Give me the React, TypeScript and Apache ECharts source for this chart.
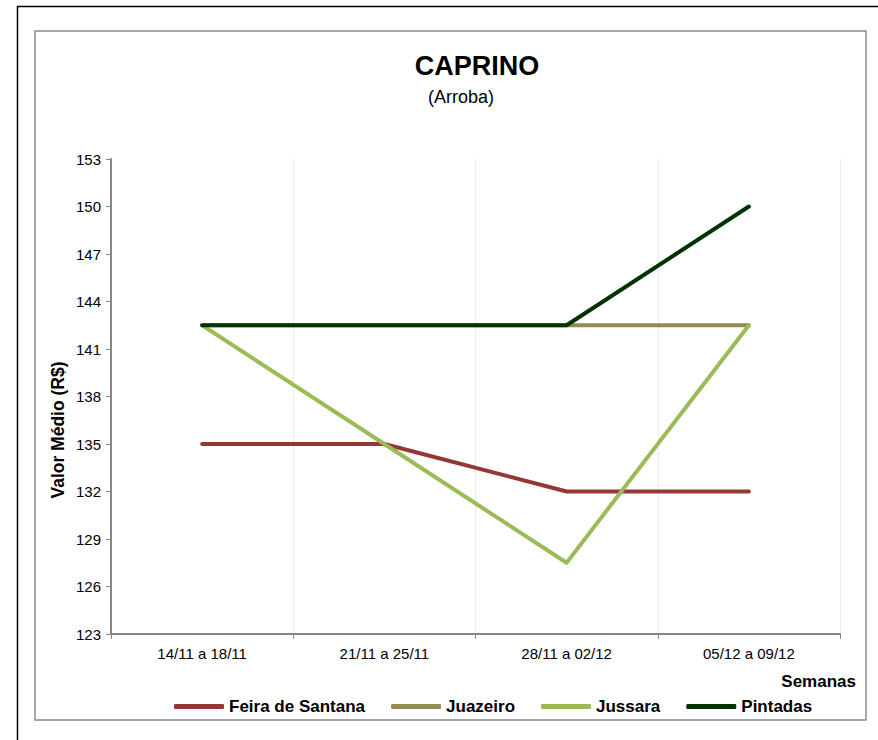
import React, { useEffect, useRef } from "react";
import * as echarts from "echarts";

const categories = ["14/11 a 18/11", "21/11 a 25/11", "28/11 a 02/12", "05/12 a 09/12"];
const feiraDeSantana = [135, 135, 132, 132];
const juazeiro = [142.5, 142.5, 142.5, 142.5];
const jussara = [142.5, 135, 127.5, 142.5];
const pintadas = [142.5, 142.5, 142.5, 150];

const seriesNames = ["Feira de Santana", "Juazeiro", "Jussara", "Pintadas"];
const seriesColors = ["#953735", "#948A54", "#9BBB59", "#003300"];

export default function App() {
  const ref = useRef<HTMLDivElement>(null);
  useEffect(() => {
    document.body.style.margin = "0";
    if (!ref.current) return;
    const chart = echarts.init(ref.current, undefined, { renderer: "svg" });
    const data = [feiraDeSantana, juazeiro, jussara, pintadas];
    const font = "'Liberation Sans', Arial, sans-serif";
    chart.setOption({
      animation: false,
      backgroundColor: "#ffffff",
      textStyle: { fontFamily: font },
      grid: { left: 111, top: 159, right: 38, bottom: 106, containLabel: false },
      xAxis: {
        type: "category",
        data: categories,
        boundaryGap: true,
        axisLine: { lineStyle: { color: "#868686", width: 2 } },
        axisTick: { show: true, length: 5, lineStyle: { color: "#868686", width: 1 } },
        axisLabel: { color: "#000", fontSize: 15, margin: 12, fontFamily: font },
        splitLine: { show: true, lineStyle: { color: "#ecece0", width: 1 } },
      },
      yAxis: {
        type: "value",
        min: 123,
        max: 153,
        interval: 3,
        axisLine: { show: true, lineStyle: { color: "#868686", width: 2 } },
        axisTick: { show: true, length: 5, lineStyle: { color: "#868686", width: 1 } },
        axisLabel: { color: "#000", fontSize: 15, margin: 10, fontFamily: font },
        splitLine: { show: false },
      },
      legend: {
        left: 174,
        top: 698,
        padding: 0,
        itemWidth: 50,
        itemHeight: 5,
        itemGap: 26,
        icon: "roundRect",
        textStyle: { fontSize: 17, fontWeight: "bold", color: "#000", fontFamily: font },
        data: seriesNames,
      },
      series: seriesNames.map((name, i) => ({
        name,
        type: "line",
        data: data[i],
        symbol: "none",
        lineStyle: { color: seriesColors[i], width: 4, cap: "round", join: "round" },
        itemStyle: { color: seriesColors[i] },
        z: 2 + i,
      })),
      graphic: [
        {
          type: "rect",
          shape: { x: 17.5, y: 6.5, width: 900, height: 800 },
          style: { fill: "none", stroke: "#000", lineWidth: 1.5 },
          silent: true,
        },
        {
          type: "rect",
          shape: { x: 35, y: 31, width: 831, height: 689 },
          style: { fill: "none", stroke: "#8c8c8c", lineWidth: 1.5 },
          silent: true,
        },
        {
          type: "text",
          x: 477,
          y: 66,
          style: {
            text: "CAPRINO",
            font: `bold 27px ${font}`,
            fill: "#000",
            textAlign: "center",
            textVerticalAlign: "middle",
          },
        },
        {
          type: "text",
          x: 461,
          y: 97,
          style: {
            text: "(Arroba)",
            font: `18px ${font}`,
            fill: "#000",
            textAlign: "center",
            textVerticalAlign: "middle",
          },
        },
        {
          type: "text",
          x: 58,
          y: 430,
          rotation: Math.PI / 2,
          style: {
            text: "Valor Médio (R$)",
            font: `bold 17.5px ${font}`,
            fill: "#000",
            textAlign: "center",
            textVerticalAlign: "middle",
          },
        },
        {
          type: "text",
          x: 856,
          y: 681,
          style: {
            text: "Semanas",
            font: `bold 17px ${font}`,
            fill: "#000",
            textAlign: "right",
            textVerticalAlign: "middle",
          },
        },
      ],
    });
    return () => chart.dispose();
  }, []);
  return <div ref={ref} style={{ width: 878, height: 740 }} />;
}
